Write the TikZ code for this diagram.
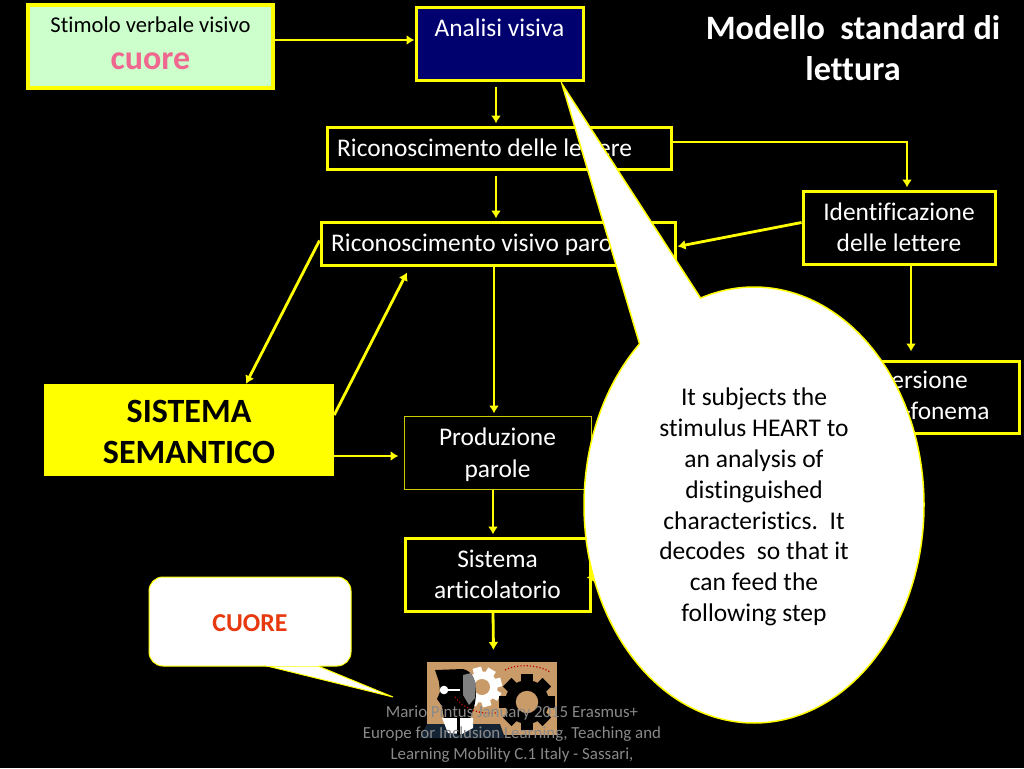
\documentclass[tikz,border=0pt]{standalone}
\usepackage{fontspec}
\setmainfont[Ligatures=NoCommon]{Carlito}
\usepackage{tikz}
\usetikzlibrary{arrows.meta}
\usetikzlibrary{shapes.callouts}

\definecolor{boxyellow}{RGB}{255,255,0}
\definecolor{mintfill}{RGB}{204,255,204}
\definecolor{analisiblue}{RGB}{0,0,110}
\definecolor{cuorepink}{RGB}{240,104,144}
\definecolor{cuorered}{RGB}{232,56,13}
\definecolor{picttan}{RGB}{201,155,105}
\definecolor{notegray}{RGB}{137,137,137}
\definecolor{suitblue}{RGB}{20,36,52}
\newcommand{\gearshape}[5]{% centre x, centre y, outer radius, colour, turn
  \foreach \a in {0,45,...,315}
    \fill[#4,rotate around={\a+#5:(#1,#2)}] (#1-#3*0.22,#2) rectangle (#1+#3*0.22,#2-#3);
  \fill[#4] (#1,#2) circle [radius=#3*0.78];
  \fill[picttan] (#1,#2) circle [radius=#3*0.4];
}

\begin{document}
\begin{tikzpicture}[x=1pt,y=-1pt,
    flowbox/.style={draw=boxyellow, line width=3pt, text=white, align=center,
                    font=\fontsize{25.4}{31}\selectfont, inner sep=0pt},
    flowarrow/.style={draw=boxyellow, line width=2.8pt,
                      -{Latex[length=8pt,width=10pt]}}]
\useasboundingbox (0,0) rectangle (1024,768);
\fill[black] (0,0) rectangle (1024,768);

\node[flowbox, line width=4pt, fill=mintfill, minimum width=245pt, minimum height=83pt]
  (stimolo) at (150.5,46.5) {};
\node[text=black, font=\fontsize{22.6}{25}\selectfont] (stimololabel) at (150.5,25) {Stimolo verbale visivo};
\node[text=cuorepink, font=\fontsize{34}{36}\selectfont\bfseries] (cuorelabel) at (150.5,61.5) {cuore};

\node[flowbox, fill=analisiblue, minimum width=167pt, minimum height=72pt] (analisi) at (499.5,44) {};
\node[text=white, font=\fontsize{25.4}{31}\selectfont] (analisilabel) at (499.5,28) {Analisi visiva};

\node[flowbox, minimum width=344pt, minimum height=42pt] (lettere) at (499,148) {};
\node[text=white, font=\fontsize{25.4}{31}\selectfont, anchor=west, inner sep=0pt] (letterelabel)
  at (337,148) {Riconoscimento delle lettere};

\node[flowbox, minimum width=354pt, minimum height=43pt] (visivo) at (498,243.5) {};
\node[text=white, font=\fontsize{25.4}{31}\selectfont, anchor=west, inner sep=0pt] (visivolabel)
  at (331,245) {Riconoscimento visivo parole};

\node[flowbox, minimum width=192pt, minimum height=73pt] (identifica) at (899,227.5)
  {Identificazione\\delle lettere};
\node[flowbox, minimum width=230pt, minimum height=72pt] (conversione) at (904,397)
  {Conversione\\grafema-fonema};

\node[fill=boxyellow, inner sep=0pt, minimum width=290pt, minimum height=92pt] (semantico) at (189,430) {};
\node[text=black, align=center, inner sep=0pt, font=\fontsize{34}{41}\selectfont\bfseries]
  (semanticolabel) at (189,432) {SISTEMA\\SEMANTICO};

\node[flowbox, line width=1pt, draw=boxyellow!80!black, minimum width=187pt, minimum height=73pt]
  (produzione) at (497.5,452.5) {};
\node[text=white, align=center, inner sep=0pt, font=\fontsize{25.4}{32}\selectfont]
  (produzionelabel) at (497.5,455) {Produzione\\parole};
\node[flowbox, minimum width=185pt, minimum height=73pt] (articola) at (497.5,574.5)
  {Sistema\\articolatorio};

% connectors
\draw[flowarrow] ([yshift=6.5pt]stimolo.east) -- ([yshift=4pt]analisi.west);
\draw[flowarrow, shorten <=5pt] ([xshift=-3.5pt]analisi.south) -- ([yshift=2pt,xshift=-3pt]lettere.north);
\draw[flowarrow, shorten <=5pt] ([xshift=-3pt]lettere.south) -- ([yshift=2pt,xshift=-2pt]visivo.north);
\draw[flowarrow] ([yshift=6pt]lettere.east) -| ([yshift=2pt,xshift=8pt]identifica.north);
\draw[flowarrow] ([yshift=5pt]identifica.west) -- ([yshift=-3pt,xshift=1pt]visivo.east);
\draw[flowarrow] ([xshift=12pt]identifica.south) -- ([xshift=7pt,yshift=8pt]conversione.north);
\draw[flowarrow] ([xshift=-4pt]visivo.south) -- ([xshift=-3.5pt,yshift=2pt]produzione.north);
\draw[flowarrow] ([yshift=3pt]visivo.west) -- ([xshift=57pt]semantico.north);
\draw[flowarrow] ([yshift=15pt]semantico.east) -- ([xshift=-91pt,yshift=-6pt]visivo.south);
\draw[flowarrow] ([yshift=-26pt]semantico.east) -- ([xshift=-5pt,yshift=-3.5pt]produzione.west);
\draw[flowarrow] ([xshift=-4.5pt]produzione.south) -- ([xshift=-4.5pt,yshift=2pt]articola.north);
\coordinate (hiddenend) at (700,577);
\draw[flowarrow] (hiddenend) -- ([xshift=-5pt,yshift=-3pt]articola.east);

% picture below the last box
\fill[picttan] (427,662) rectangle (557,724);
\fill[picttan] (500,720) rectangle (557,735);
\fill[suitblue] (427,724) -- (500,724) -- (505,738) -- (420,738) -- cycle;
\coordinate (pictend) at (493.5,650);
\draw[flowarrow] ([xshift=-4.5pt]articola.south) -- (pictend);
\gearshape{482}{687}{20}{white}{15}
\gearshape{527}{702}{28}{black}{0}
\fill[black] (435,670) -- (463,669) .. controls (472,671) and (476,680) .. (476,692)
  .. controls (476,705) and (472,712) .. (470,719) -- (444,719) -- (442,706) -- (437,699)
  -- (440,692) -- (439,682) -- cycle;
\fill[gray] (463,675) -- (471,673) -- (476,684) -- (475,698) -- (469,705) -- (463,695) -- cycle;
\fill[white] (444,690) circle [radius=4.3];
\draw[white, line width=2pt] (444,690) -- (460,690);
\fill[white] (442,718) -- (473,718) -- (473,728) -- (462,734) -- (448,733) -- cycle;
\draw[black, line width=2.5pt] (458.5,718) -- (458.5,735);
\draw[red!75!black, line width=1.2pt, dotted] (455,697) .. controls (462,708) and (480,715) .. (496,713);
\draw[red!75!black, line width=1.2pt, dotted] (505,670) .. controls (515,664) and (538,664) .. (550,672);

% note at the foot
\node[text=notegray, align=center, inner sep=0pt, font=\fontsize{16.9}{21}\selectfont] (footnote) at (512,734)
  {Mario Pintus January 2015 Erasmus+\\Europe for Inclusion Learning, Teaching and\\Learning Mobility C.1 Italy - Sassari,};

\node[text=white, align=center, inner sep=0pt, font=\fontsize{34.2}{41}\selectfont\bfseries] (titolo) at (853,48)
  {Modello\ \ standard di\\lettura};

% callouts
\node[fill=white, draw=boxyellow, line width=1pt, rounded corners=14pt, minimum width=202pt, minimum height=89pt]
  (cuorebox) at (250,621.5) {};
\fill[white, draw=boxyellow, line width=1pt] (267,666) -- (393,697) -- (318,666) -- cycle;
\fill[white] (266,664) rectangle (319,666);
\node[text=cuorered, font=\fontsize{25.8}{28}\selectfont\bfseries] (cuorenote) at (250,623) {CUORE};

\node[ellipse callout, fill=white, draw=boxyellow, line width=1.5pt, inner sep=0pt,
      minimum width=340pt, minimum height=436pt,
      callout absolute pointer={(562,84)}, callout pointer arc=24] (mainnote) at (754,505) {};
\node[text=black, align=center, inner sep=0pt, font=\fontsize{25.5}{30.8}\selectfont] (mainnotelabel) at (754,507)
  {It subjects the\\stimulus HEART to\\an analysis of\\distinguished\\characteristics.\ \ It\\decodes\ \ so that it\\can feed the\\following step};
\end{tikzpicture}
\end{document}
